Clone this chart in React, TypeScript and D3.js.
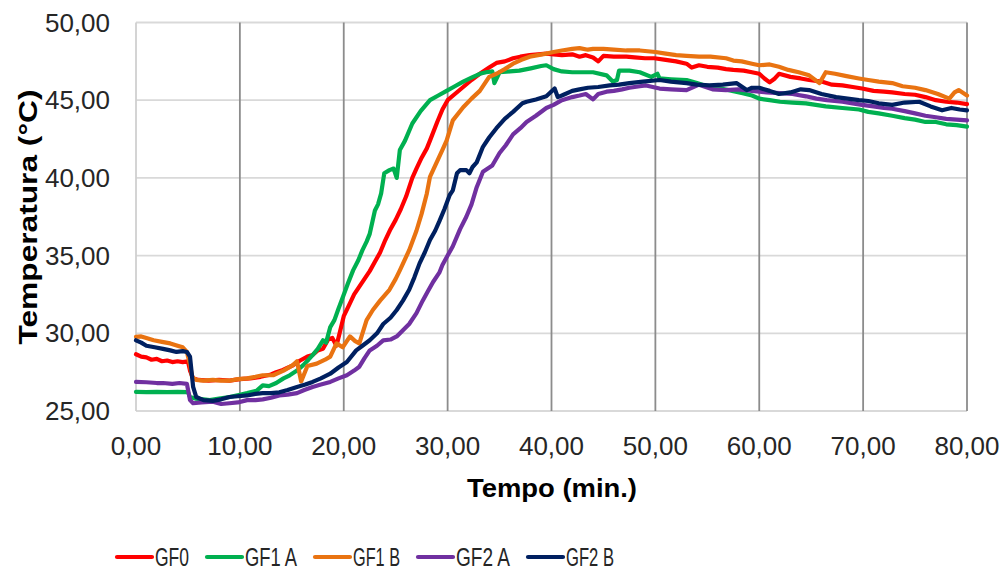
import React from "react";
import * as d3 from "d3";

type P = [number, number];

const seriesNames = ["GF0", "GF1 A", "GF1 B", "GF2 A", "GF2 B"];
const seriesColors = ["#FF0000", "#00B050", "#E97311", "#7030A0", "#002060"];
const xTicks = [0, 10, 20, 30, 40, 50, 60, 70, 80];
const yTicks = [25, 30, 35, 40, 45, 50];

const gf0: P[] = [[0,28.65],[0.5,28.5],[1,28.45],[1.5,28.3],[2,28.35],[2.5,28.2],[3,28.25],[3.5,28.15],[4,28.2],[4.5,28.15],[5,28.2],[5.2,27.6],[5.5,27.1],[6,27.0],[7,26.95],[8,27.0],[9,26.95],[10,27.05],[11,27.1],[12,27.2],[13,27.35],[13.5,27.5],[14,27.6],[14.5,27.75],[15,27.9],[15.8,28.25],[16.5,28.5],[17,28.6],[17.5,28.9],[18,29.0],[18.5,29.6],[18.9,29.7],[19.3,29.2],[19.6,30.0],[20,31.1],[20.5,31.8],[21,32.5],[21.5,33.0],[22,33.5],[22.5,34.0],[23,34.6],[23.5,35.2],[24,36.0],[24.5,36.7],[25,37.3],[25.5,38.0],[26,38.8],[26.6,40.0],[27,40.6],[27.5,41.3],[28,41.9],[28.3,42.4],[29,43.6],[29.5,44.4],[30,45.0],[30.7,45.4],[31.5,45.85],[32.3,46.3],[33.1,46.7],[34,47.1],[34.7,47.4],[35.5,47.5],[36.3,47.7],[37,47.8],[37.9,47.9],[38.7,47.95],[39.5,48.0],[40.2,47.95],[41,47.9],[42,47.95],[42.7,47.8],[43.3,47.9],[44,47.75],[44.5,47.5],[45,47.85],[46,47.8],[47.2,47.8],[48,47.75],[49,47.7],[49.9,47.7],[51,47.6],[52,47.5],[53,47.35],[53.5,47.1],[54.2,47.25],[55,47.15],[56,47.1],[56.8,47.0],[57.5,46.95],[58.5,46.9],[59.3,46.8],[60,46.7],[60.5,46.4],[61,46.15],[61.5,46.4],[61.9,46.7],[63,46.5],[64,46.4],[64.8,46.3],[66,46.2],[67,46.0],[68,45.95],[69,45.85],[69.9,45.75],[71,45.6],[72,45.55],[72.8,45.5],[74,45.4],[75,45.35],[76,45.2],[77,45.0],[78,44.9],[79,44.85],[80,44.75]];

const gf1a: P[] = [[0,26.23],[1,26.22],[2,26.23],[3,26.22],[4,26.23],[5,26.22],[5.2,25.9],[5.7,25.8],[6.5,25.75],[7.1,25.7],[8,25.8],[9,25.9],[10,26.05],[10.7,26.15],[11.6,26.3],[12.2,26.65],[12.8,26.6],[13.5,26.8],[14.2,27.1],[14.8,27.3],[15.5,27.6],[16.1,27.95],[16.6,28.3],[17,28.6],[17.5,29.0],[18,29.55],[18.3,29.4],[18.7,30.4],[19.1,30.85],[19.5,31.6],[19.9,32.3],[20.4,33.2],[20.9,34.05],[21.4,34.7],[21.8,35.35],[22.2,35.9],[22.5,36.4],[23,37.9],[23.3,38.3],[23.6,39.0],[23.9,40.3],[24.4,40.5],[24.8,40.6],[25.1,40.0],[25.4,41.8],[25.9,42.4],[26.6,43.5],[27.4,44.3],[28.3,45.0],[29.1,45.3],[29.9,45.6],[30.7,45.9],[31.5,46.2],[32.3,46.45],[33.1,46.7],[33.7,46.8],[34.3,46.85],[34.5,46.1],[35,46.8],[36,46.85],[36.9,46.9],[38,47.05],[39,47.2],[39.5,47.25],[40.2,47.0],[41,46.85],[42,46.8],[42.7,46.8],[44,46.8],[45.3,46.6],[45.9,46.2],[46.3,46.3],[46.5,46.9],[47.5,46.9],[48.5,46.8],[49.6,46.5],[50.2,46.7],[50.4,46.4],[51.5,46.35],[53,46.3],[54,46.1],[55.2,45.85],[56.3,45.75],[57.4,45.6],[58.4,45.45],[59.3,45.3],[60,45.1],[61,45.0],[62,44.9],[63.2,44.85],[64.5,44.8],[66.4,44.6],[68,44.5],[69.6,44.4],[70.5,44.25],[71.5,44.15],[72.8,44.0],[74,43.85],[75,43.75],[76,43.6],[77,43.6],[78,43.45],[79,43.4],[80,43.3]];

const gf1b: P[] = [[0,29.77],[0.5,29.8],[1,29.7],[1.7,29.55],[2.5,29.45],[3.3,29.35],[4,29.2],[4.5,29.1],[4.9,28.8],[5.2,28.0],[5.4,27.2],[5.8,27.0],[6.5,26.95],[7.4,27.0],[8.2,26.95],[9,26.95],[9.8,27.05],[10.7,27.1],[11.5,27.2],[12.2,27.3],[13.2,27.3],[14.2,27.6],[15.1,27.95],[15.5,28.2],[15.9,26.9],[16.5,27.9],[17.4,28.05],[18.2,28.3],[18.7,28.5],[19.3,29.35],[19.9,29.1],[20.6,29.8],[21.1,29.5],[21.5,29.35],[22.2,30.85],[22.8,31.5],[23.5,32.1],[24.4,32.8],[25,33.5],[25.4,34.05],[26.3,35.35],[27,36.6],[27.5,37.7],[28,39.0],[28.3,40.06],[28.6,40.5],[29.5,41.8],[29.9,42.4],[30.5,43.7],[31.5,44.55],[32.3,45.1],[33.1,45.6],[34,46.5],[34.7,46.7],[35.5,47.0],[36.3,47.35],[37.1,47.6],[37.9,47.8],[38.7,47.9],[39.5,48.0],[40.2,48.1],[41,48.2],[42,48.3],[42.7,48.35],[43.5,48.25],[44,48.3],[45,48.3],[46,48.25],[47.2,48.2],[48.5,48.2],[50,48.1],[51,48.0],[52,47.9],[53,47.85],[54.2,47.8],[55.3,47.8],[56.8,47.7],[57.5,47.55],[58.3,47.5],[59.3,47.35],[60,47.25],[61,47.3],[61.9,47.15],[62.8,46.95],[63.8,46.8],[64.8,46.6],[65.8,46.1],[66.4,46.8],[67.3,46.7],[68.4,46.55],[69.6,46.4],[70.5,46.3],[71.5,46.2],[72.8,46.1],[73.8,45.9],[75,45.8],[76,45.65],[77.2,45.4],[78.3,45.1],[78.8,45.5],[79.2,45.65],[80,45.3]];

const gf2a: P[] = [[0,26.87],[1,26.85],[2,26.8],[2.6,26.8],[3.5,26.75],[4.2,26.8],[4.9,26.75],[5.2,25.7],[5.5,25.5],[6.3,25.55],[7.4,25.6],[8.2,25.45],[9,25.5],[9.8,25.55],[10.7,25.7],[11.5,25.7],[12.2,25.75],[13,25.85],[13.8,26.0],[14.6,26.05],[15.5,26.15],[16.2,26.35],[17,26.55],[17.8,26.7],[18.7,26.87],[19.5,27.1],[20.3,27.3],[21,27.6],[21.5,27.85],[22,28.4],[22.5,28.9],[23.2,29.2],[23.8,29.55],[24.5,29.6],[25.1,29.8],[25.7,30.2],[26.3,30.6],[27,31.3],[27.6,32.1],[28.1,32.7],[28.6,33.3],[29.2,33.9],[29.5,34.4],[30,35.0],[30.5,35.6],[31.2,36.7],[31.8,37.5],[32.3,38.3],[32.8,39.4],[33.4,40.4],[34.3,40.8],[35,41.6],[35.6,42.1],[36.3,42.8],[37,43.2],[37.6,43.6],[38.5,44.0],[39.5,44.5],[40.2,44.7],[41,45.0],[42,45.2],[42.7,45.3],[43.3,45.4],[44,45.05],[44.5,45.4],[45.3,45.55],[46,45.6],[46.8,45.7],[47.5,45.8],[48.5,45.9],[49.1,45.95],[50.4,45.75],[51.5,45.7],[53,45.65],[54.2,46.0],[55.5,45.7],[56.8,45.65],[58,45.7],[59.3,45.6],[60.7,45.5],[62,45.45],[63.2,45.4],[64.5,45.25],[65.5,45.1],[66.5,45.0],[68,44.9],[69,44.8],[69.9,44.7],[71,44.6],[72,44.5],[72.8,44.45],[74,44.3],[75,44.15],[76,44.0],[77,43.9],[78,43.8],[79,43.75],[80,43.7]];

const gf2b: P[] = [[0,29.55],[0.5,29.4],[1,29.2],[1.8,29.1],[2.6,29.0],[3.3,28.9],[3.9,28.8],[4.5,28.85],[4.9,28.8],[5.2,28.5],[5.5,26.55],[5.8,25.9],[6.5,25.7],[7.4,25.65],[8.2,25.75],[9,25.9],[9.8,25.95],[10.7,26.0],[11.5,26.1],[12.2,26.15],[13,26.15],[13.8,26.2],[14.6,26.35],[15.5,26.55],[16.3,26.7],[17,26.87],[17.8,27.1],[18.7,27.4],[19.5,27.8],[20.3,28.15],[21.2,28.9],[21.8,29.2],[22.5,29.55],[23.2,30.0],[23.8,30.6],[24.5,31.0],[25.1,31.5],[25.7,32.1],[26.3,32.8],[26.8,33.6],[27.3,34.5],[27.8,35.2],[28.3,36.0],[28.8,36.6],[29.2,37.2],[29.7,38.0],[30.2,38.9],[30.5,39.2],[30.9,40.3],[31.2,40.5],[31.8,40.5],[32.1,40.3],[32.4,40.7],[32.8,41.0],[33.4,42.0],[34,42.6],[34.7,43.2],[35.5,43.8],[36.3,44.25],[37.2,44.8],[37.6,44.9],[38.5,45.05],[39.5,45.25],[40.3,45.75],[40.6,45.2],[41,45.3],[42,45.6],[42.7,45.7],[43.5,45.8],[44.5,45.85],[45.6,45.95],[46.5,46.0],[47.5,46.1],[48.8,46.2],[50.4,46.3],[51.5,46.2],[53,46.1],[54,46.0],[55.2,45.95],[56.5,46.0],[57.8,46.1],[58.8,45.65],[59.3,45.8],[60,45.8],[61,45.6],[61.9,45.4],[63,45.5],[64,45.7],[64.8,45.65],[66,45.4],[67.4,45.2],[68.5,45.1],[69.6,45.0],[70.5,44.95],[71.5,44.8],[72.8,44.7],[74,44.85],[75.4,44.9],[76.5,44.6],[77.6,44.35],[78.5,44.5],[79.3,44.4],[80,44.35]];

const allSeries = [gf0, gf1a, gf1b, gf2a, gf2b];

const W = 1003;
const H = 572;
const FONT = "'Liberation Sans', Arial, sans-serif";
const fmt = (v: number) => v.toFixed(2).replace(".", ",");

export default function App() {
  const x = d3.scaleLinear().domain([0, 80]).range([136, 967]);
  const y = d3.scaleLinear().domain([25, 50]).range([411, 22.5]);
  const line = d3
    .line<P>()
    .x((d) => x(d[0]))
    .y((d) => y(d[1]));

  const legendTextW = [34, 52, 47, 54, 48];
  const legendItems: { x: number; i: number }[] = [];
  let lx = 117;
  seriesNames.forEach((_, i) => {
    legendItems.push({ x: lx, i });
    lx += 35 + 3 + legendTextW[i] + 18;
  });

  return (
    <svg
      width={W}
      height={H}
      style={{ position: "absolute", left: 0, top: 0, background: "#fff" }}
      fontFamily={FONT}
    >
      <rect x={0} y={0} width={W} height={H} fill="#fff" />
      {yTicks.map((t) => (
        <line
          key={"h" + t}
          x1={x(0)}
          x2={x(80)}
          y1={y(t)}
          y2={y(t)}
          stroke="#D9D9D9"
          strokeWidth={1.8}
        />
      ))}
      <line x1={x(0)} x2={x(0)} y1={y(25)} y2={y(50)} stroke="#D0D0D0" strokeWidth={1.8} />
      {xTicks.slice(1).map((t) => (
        <line
          key={"v" + t}
          x1={x(t)}
          x2={x(t)}
          y1={y(25)}
          y2={y(50)}
          stroke="#8C8C8C"
          strokeWidth={1.8}
        />
      ))}
      {allSeries.map((s, i) => (
        <path
          key={"s" + i}
          d={line(s) || ""}
          fill="none"
          stroke={seriesColors[i]}
          strokeWidth={4.2}
          strokeLinejoin="round"
          strokeLinecap="round"
        />
      ))}
      {yTicks.map((t) => (
        <text
          key={"yl" + t}
          x={110}
          y={y(t)}
          dy="0.35em"
          textAnchor="end"
          fontSize={26}
          fill="#262626"
        >
          {fmt(t)}
        </text>
      ))}
      {xTicks.map((t) => (
        <text
          key={"xl" + t}
          x={x(t)}
          y={455}
          textAnchor="middle"
          fontSize={26}
          fill="#262626"
        >
          {fmt(t)}
        </text>
      ))}
      <text
        x={552}
        y={497}
        textAnchor="middle"
        fontSize={25}
        fontWeight="bold"
        fill="#000"
        textLength={170}
        lengthAdjust="spacingAndGlyphs"
      >
        Tempo (min.)
      </text>
      <text
        transform={`translate(37, 217) rotate(-90)`}
        textAnchor="middle"
        fontSize={25}
        fontWeight="bold"
        fill="#000"
        textLength={255}
        lengthAdjust="spacingAndGlyphs"
      >
        Temperatura (°C)
      </text>
      {legendItems.map(({ x: ix, i }) => (
        <g key={"lg" + i}>
          <line
            x1={ix}
            x2={ix + 35}
            y1={557}
            y2={557}
            stroke={seriesColors[i]}
            strokeWidth={4.2}
            strokeLinecap="round"
          />
          <text
            x={ix + 38}
            y={566}
            fontSize={25}
            fill="#262626"
            textLength={legendTextW[i]}
            lengthAdjust="spacingAndGlyphs"
          >
            {seriesNames[i]}
          </text>
        </g>
      ))}
    </svg>
  );
}
